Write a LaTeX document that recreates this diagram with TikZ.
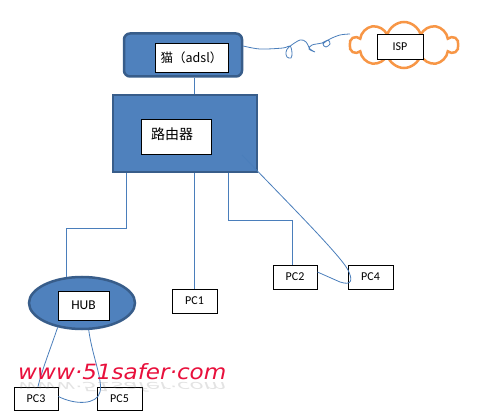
\documentclass[tikz,border=0pt]{standalone}
\usepackage{fontspec}
\setmainfont{Carlito}
\newfontfamily\cjk{Noto Sans CJK SC}
\newfontfamily\wmfont{DejaVu Sans}
\usetikzlibrary{shapes.geometric,shapes.symbols,calc}
\definecolor{fillblue}{HTML}{4F81BD}
\definecolor{edgeblue}{HTML}{385D8A}
\definecolor{wireblue}{HTML}{4A7EBB}
\definecolor{ispor}{HTML}{F79646}
\definecolor{wmred}{HTML}{E8103C}
\begin{document}
\begin{tikzpicture}[x=1pt,y=-1pt,
  device/.style={draw=edgeblue, fill=fillblue, line width=2.5pt, inner sep=0},
  labelbox/.style={draw=black, fill=white, line width=0.8pt, inner sep=0, font=\fontsize{12}{14}\selectfont},
  pcbox/.style={labelbox, minimum width=45, minimum height=24},
  wire/.style={draw=wireblue, line width=0.8pt},
  wmstyle/.style={anchor=base west, inner sep=0, transform shape, font=\wmfont\itshape\fontsize{21}{23}\selectfont}]
\useasboundingbox (0,0) rectangle (497,419);
% modem
\node[device, rounded corners=6pt, minimum width=118, minimum height=43] (modem) at (183,55) {};
\node[labelbox, minimum width=73, minimum height=29, font=\cjk\fontsize{12.5}{14}\selectfont] (mlabel) at (191.5,57.5) {猫（adsl）};
% ISP cloud
\node[cloud, cloud puffs=10, aspect=2.3, draw=ispor, line width=2.5pt, fill=white, minimum width=108, minimum height=46] (cloud) at (404,45) {};
\node[labelbox, minimum width=46, minimum height=25] (isp) at (400,46.5) {ISP};
% router
\node[device, minimum width=144, minimum height=77] (router) at (185,133.5) {};
\node[labelbox, minimum width=70, minimum height=35] (rlabel) at (176,136.5) {};
\node[anchor=west, inner sep=0, font=\cjk\fontsize{14}{16}\selectfont] (rtext) at (151,134) {路由器};
% hub
\node[device, ellipse, minimum width=106, minimum height=52] (hub) at (82,303) {};
\node[labelbox, minimum width=51, minimum height=29, font=\fontsize{13.5}{15}\selectfont] (hublabel) at (83.5,305.5) {HUB};
% PCs
\node[pcbox] (pc1) at (194.5,301) {PC1};
\node[pcbox, minimum width=44] (pc2) at (295,277) {PC2};
\node[pcbox] (pc4) at (370.5,277) {PC4};
\node[pcbox, minimum width=44, minimum height=23] (pc3) at (36,398.5) {PC3};
\node[pcbox, minimum height=23] (pc5) at (119.5,398.5) {PC5};
% connectors
\draw[wire] plot[smooth, tension=0.55] coordinates {([yshift=9pt]modem.east) (260,49) (283,48) (290,46) (292,53) (291,58) (287,57) (286,52) (289,47) (300,40) (306,42) (310,49) (315,52) (309,49) (312,45) (322,43) (328,40) (330,44) (326,47) (323,44) (330,39) (340,35) (350,34)};
\draw[wire] (modem.south -| pc1.north) -- (router.north -| pc1.north);
\draw[wire] (router.south -| pc1.north) -- (pc1.north);
\draw[wire] ([xshift=-59pt]router.south) -- ++(0,55) -| (hub.121);
\draw[wire] ([xshift=43pt]router.south) -- ++(0,47) -| ([xshift=-3pt]pc2.north);
\draw[wire] ([xshift=-16pt,yshift=18pt]router.south east) .. controls (290,205) and (340,255) .. (348,270) .. controls (353,280) and (352,286) .. (340,282) -- ([yshift=5pt]pc2.east);
\draw[wire] (hub.225) .. controls (50,350) and (42,370) .. ([xshift=2pt]pc3.north);
\draw[wire] (hub.284) .. controls (92,355) and (103,380) .. (100,392) .. controls (97,405) and (75,405) .. ([yshift=2pt]pc3.east);
% watermark
\node[wmstyle, xscale=1.1, yscale=-0.6, text=gray, opacity=0.22] (wmrefl) at (18,382) {www·51safer·com};
\node[wmstyle, xscale=1.1, text=wmred] (wmark) at (18,379) {www·51safer·com};
\end{tikzpicture}
\end{document}
